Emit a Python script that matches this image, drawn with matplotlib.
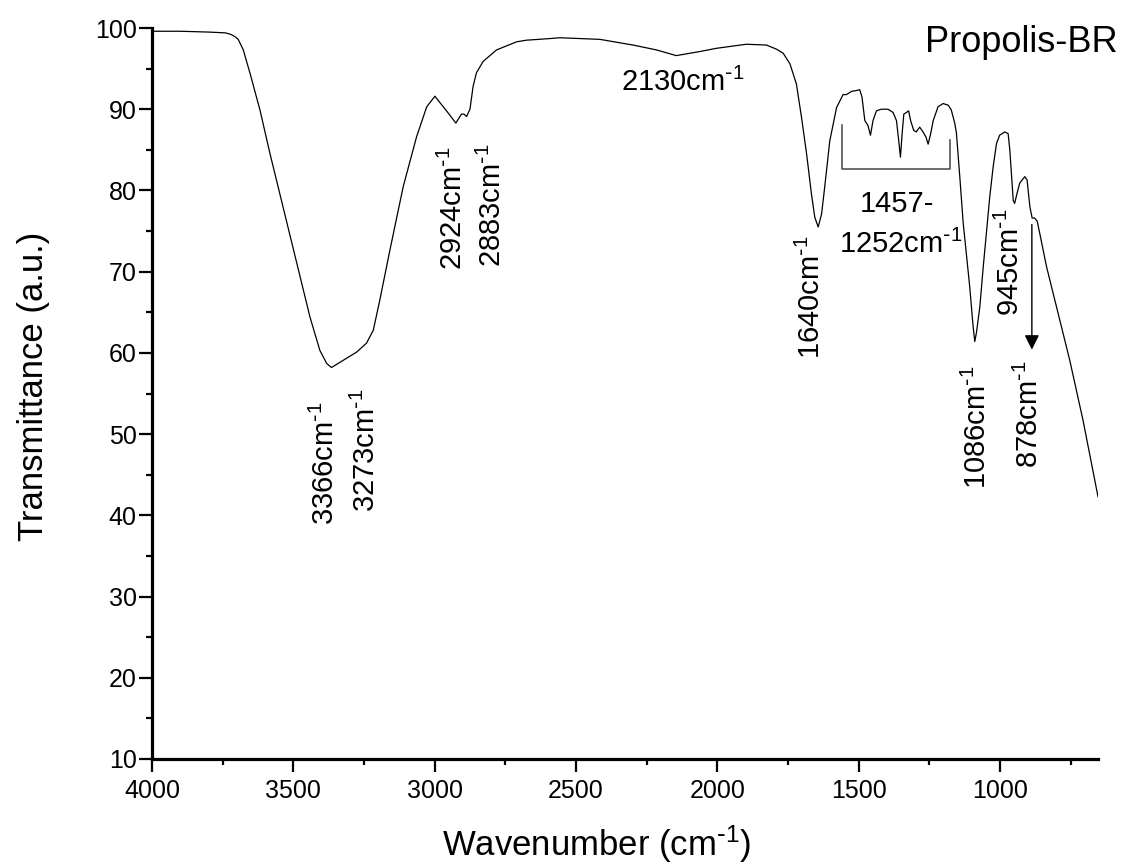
import matplotlib
matplotlib.use("Agg")
import matplotlib.pyplot as plt
from matplotlib.ticker import MultipleLocator

plt.rcParams['font.family'] = ['Liberation Sans', 'DejaVu Sans']
plt.rcParams['mathtext.default'] = 'regular'

# FTIR spectrum
wavenumber = [4000, 3900, 3800, 3740, 3720, 3705, 3695, 3677, 3653, 3618, 3583, 3536,
              3488, 3441, 3406, 3382, 3365, 3323, 3276, 3241, 3217, 3194, 3158, 3111,
              3064, 3028, 2999, 2981, 2958, 2925, 2905, 2896, 2887, 2875, 2864, 2852,
              2828, 2781, 2710, 2675, 2592, 2557, 2415, 2298, 2215, 2145, 2062, 2003,
              1897, 1826, 1791, 1767, 1743, 1720, 1702, 1684, 1667, 1655, 1643, 1631,
              1620, 1602, 1578, 1555, 1543, 1525, 1508, 1496, 1488, 1478, 1467, 1458,
              1449, 1437, 1420, 1396, 1378, 1366, 1358, 1352, 1346, 1340, 1331, 1323,
              1316, 1305, 1296, 1284, 1272, 1262, 1254, 1245, 1236, 1219, 1201, 1183,
              1172, 1160, 1154, 1142, 1130, 1118, 1107, 1095, 1089, 1083, 1071, 1059,
              1048, 1036, 1024, 1012, 1001, 983, 971, 965, 953, 948, 939, 930, 912, 904,
              894, 886, 877, 868, 859, 835, 800, 753, 706, 653]
transmittance = [99.6, 99.6, 99.5, 99.4, 99.2, 98.9, 98.6, 97.3, 94.4, 89.9, 84.6, 77.9,
                 71.0, 64.4, 60.3, 58.7, 58.2, 59.1, 60.1, 61.2, 62.8, 66.5, 72.7, 80.5,
                 86.6, 90.3, 91.6, 90.8, 89.8, 88.3, 89.4, 89.4, 89.1, 90.0, 92.8, 94.5,
                 95.9, 97.3, 98.3, 98.5, 98.7, 98.8, 98.6, 97.9, 97.3, 96.6, 97.1, 97.5,
                 98.0, 97.9, 97.4, 96.9, 95.6, 93.1, 89.0, 84.5, 79.6, 76.7, 75.5, 77.1,
                 80.4, 86.1, 90.2, 91.8, 91.8, 92.2, 92.3, 92.4, 91.5, 88.6, 88.0, 86.8,
                 88.6, 89.8, 90.0, 90.0, 89.6, 88.6, 86.1, 84.1, 87.0, 89.4, 89.6, 89.8,
                 88.6, 87.4, 87.2, 87.8, 87.2, 86.6, 85.7, 87.0, 88.6, 90.3, 90.7, 90.5,
                 89.9, 88.3, 87.1, 81.7, 76.0, 71.9, 68.2, 63.3, 61.4, 62.5, 65.7, 70.6,
                 74.7, 79.2, 82.9, 85.8, 86.8, 87.2, 87.0, 85.0, 78.8, 78.4, 79.7, 80.9, 81.7, 81.3,
                 78.0, 76.6, 76.6, 76.2, 74.7, 70.6, 65.7, 59.1, 51.7, 42.3]

x_ticks = [4000, 3500, 3000, 2500, 2000, 1500, 1000]
y_ticks = [10, 20, 30, 40, 50, 60, 70, 80, 90, 100]

SUP = r'$^{\text{-}1}$'

fig = plt.figure(figsize=(11.24, 8.67), dpi=100)
ax = fig.add_axes([152/1124, 1 - 759/867, (1098 - 152)/1124, (759 - 28)/867])

ax.plot(wavenumber, transmittance, color='black', lw=0.9)

ax.set_xlim(4000, 653)
ax.set_ylim(10, 100)
ax.set_xticks(x_ticks)
ax.set_yticks(y_ticks)
ax.xaxis.set_minor_locator(MultipleLocator(250))
ax.yaxis.set_minor_locator(MultipleLocator(5))

for s in ['top', 'right']:
    ax.spines[s].set_visible(False)
for s in ['left', 'bottom']:
    ax.spines[s].set_linewidth(2.3)

ax.tick_params(which='major', direction='out', length=9.5, width=1.6, labelsize=18)
ax.tick_params(which='minor', direction='out', length=4.5, width=1.6)
ax.tick_params(axis='y', which='major', pad=1.5)
ax.tick_params(axis='x', which='major', pad=5)

ax.set_xlabel('Wavenumber (cm' + SUP + ')', fontsize=25)
ax.set_ylabel('Transmittance (a.u.)', fontsize=25)
ax.xaxis.set_label_coords(0.47, -0.088)
ax.yaxis.set_label_coords(-0.108, 0.51)

fs = 21
rot_labels = [
    (3388, 54.0, '3366cm' + SUP),
    (3243, 55.6, '3273cm' + SUP),
    (2935, 85.4, '2924cm' + SUP),
    (2797, 85.8, '2883cm' + SUP),
    (1666, 74.5, '1640cm' + SUP),
    (1078, 58.5, '1086cm' + SUP),
    (895, 59.0, '878cm' + SUP),
]
for xw, yv, t in rot_labels:
    ax.text(xw, yv, t, rotation=90, ha='center', va='top', fontsize=fs)

ax.text(962, 64.5, '945cm' + SUP, rotation=90, ha='center', va='bottom', fontsize=fs)
ax.text(2122, 92.3, '2130cm' + SUP, ha='center', va='baseline', fontsize=fs)
ax.text(1365, 77.4, '1457-', ha='center', va='baseline', fontsize=fs)
ax.text(1351, 72.3, '1252cm' + SUP, ha='center', va='baseline', fontsize=fs)

# bracket over 1457-1252 region
ax.plot([1559, 1559, 1177, 1177], [88.1, 82.7, 82.7, 86.2], color='#555555', lw=1.2)

# arrow at 878
ax.annotate('', xy=(887, 60.4), xytext=(887, 75.8),
            arrowprops=dict(arrowstyle='-|>', color='black', lw=1.0,
                            mutation_scale=22, shrinkA=0, shrinkB=0))

fig.text(1118/1124, 1 - 52/867, 'Propolis-BR', ha='right', va='baseline', fontsize=26)

fig.savefig('out.png', dpi=100)
